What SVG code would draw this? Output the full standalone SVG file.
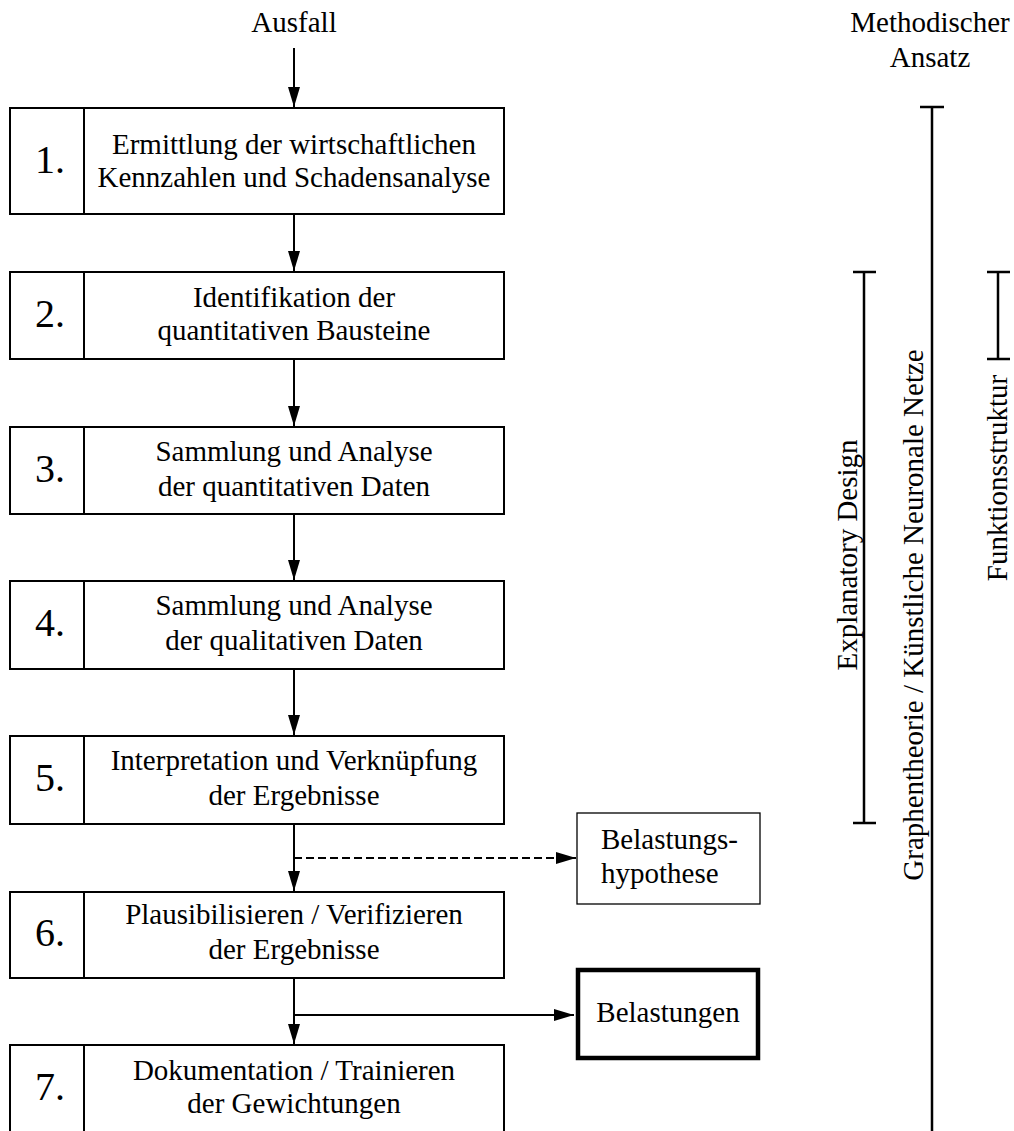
<svg xmlns="http://www.w3.org/2000/svg" width="1014" height="1131" viewBox="0 0 1014 1131">
  <style>
    text { font-family: "Liberation Serif", "Times New Roman", serif; fill: #000; }
    .t { font-size: 29px; text-anchor: middle; }
    .num { font-size: 40px; text-anchor: middle; }
    .box { fill: #fff; stroke: #000; stroke-width: 2; }
    .div { stroke: #000; stroke-width: 2; }
    .flow { stroke: #000; stroke-width: 2; fill: none; }
    .dash { stroke: #000; stroke-width: 2; fill: none; stroke-dasharray: 8 4; }
    .bar { stroke: #000; stroke-width: 2.5; fill: none; }
  </style>
  <defs>
    <marker id="arrow" markerUnits="userSpaceOnUse" markerWidth="20" markerHeight="12" refX="20" refY="6" orient="auto">
      <path d="M0,0 L20,6 L0,12 Z" fill="#000"/>
    </marker>
  </defs>

  <rect width="1014" height="1131" fill="#fff"/>

  <!-- headings -->
  <text class="t" x="294" y="32">Ausfall</text>
  <text class="t" x="930" y="32">Methodischer</text>
  <text class="t" x="930" y="67">Ansatz</text>

  <!-- connectors -->
  <g id="connectors">
    <line class="flow" x1="294" y1="48" x2="294" y2="107" marker-end="url(#arrow)"/>
    <line class="flow" x1="294" y1="214" x2="294" y2="271" marker-end="url(#arrow)"/>
    <line class="flow" x1="294" y1="359" x2="294" y2="426" marker-end="url(#arrow)"/>
    <line class="flow" x1="294" y1="514" x2="294" y2="580" marker-end="url(#arrow)"/>
    <line class="flow" x1="294" y1="669" x2="294" y2="735" marker-end="url(#arrow)"/>
    <line class="flow" x1="294" y1="824" x2="294" y2="891" marker-end="url(#arrow)"/>
    <line class="flow" x1="294" y1="978" x2="294" y2="1044" marker-end="url(#arrow)"/>
    <line class="dash" x1="294" y1="858" x2="576" y2="858" marker-end="url(#arrow)"/>
    <line class="flow" x1="294" y1="1015" x2="574" y2="1015" marker-end="url(#arrow)"/>
  </g>

  <!-- process steps -->
  <g id="step1">
    <rect class="box" x="10" y="108" width="494" height="106"/>
    <line class="div" x1="84" y1="108" x2="84" y2="214"/>
    <text class="num" x="50" y="173">1.</text>
    <text class="t" x="294" y="154">Ermittlung der wirtschaftlichen</text>
    <text class="t" x="294" y="187">Kennzahlen und Schadensanalyse</text>
  </g>
  <g id="step2">
    <rect class="box" x="10" y="272" width="494" height="87"/>
    <line class="div" x1="84" y1="272" x2="84" y2="359"/>
    <text class="num" x="50" y="327">2.</text>
    <text class="t" x="294" y="307">Identifikation der</text>
    <text class="t" x="294" y="340">quantitativen Bausteine</text>
  </g>
  <g id="step3">
    <rect class="box" x="10" y="427" width="494" height="87"/>
    <line class="div" x1="84" y1="427" x2="84" y2="514"/>
    <text class="num" x="50" y="482">3.</text>
    <text class="t" x="294" y="461">Sammlung und Analyse</text>
    <text class="t" x="294" y="496">der quantitativen Daten</text>
  </g>
  <g id="step4">
    <rect class="box" x="10" y="581" width="494" height="88"/>
    <line class="div" x1="84" y1="581" x2="84" y2="669"/>
    <text class="num" x="50" y="636">4.</text>
    <text class="t" x="294" y="615">Sammlung und Analyse</text>
    <text class="t" x="294" y="650">der qualitativen Daten</text>
  </g>
  <g id="step5">
    <rect class="box" x="10" y="736" width="494" height="88"/>
    <line class="div" x1="84" y1="736" x2="84" y2="824"/>
    <text class="num" x="50" y="791">5.</text>
    <text class="t" x="294" y="770">Interpretation und Verknüpfung</text>
    <text class="t" x="294" y="805">der Ergebnisse</text>
  </g>
  <g id="step6">
    <rect class="box" x="10" y="892" width="494" height="86"/>
    <line class="div" x1="84" y1="892" x2="84" y2="978"/>
    <text class="num" x="50" y="946">6.</text>
    <text class="t" x="294" y="924">Plausibilisieren / Verifizieren</text>
    <text class="t" x="294" y="959">der Ergebnisse</text>
  </g>
  <g id="step7">
    <rect class="box" x="10" y="1045" width="494" height="100"/>
    <line class="div" x1="84" y1="1045" x2="84" y2="1145"/>
    <text class="num" x="50" y="1100">7.</text>
    <text class="t" x="294" y="1080">Dokumentation / Trainieren</text>
    <text class="t" x="294" y="1113">der Gewichtungen</text>
  </g>

  <!-- outputs -->
  <g id="hypothese">
    <rect x="577" y="813" width="183" height="91" fill="#fff" stroke="#000" stroke-width="1.3"/>
    <text x="601" y="849" style="font-size:29px">Belastungs-</text>
    <text x="601" y="883" style="font-size:29px">hypothese</text>
  </g>
  <g id="belastungen">
    <rect x="578" y="970" width="180" height="88" fill="#fff" stroke="#000" stroke-width="4.5"/>
    <text class="t" x="668" y="1022">Belastungen</text>
  </g>

  <!-- method ranges -->
  <g id="explanatory-design">
    <path class="bar" d="M864,272 V823 M853,272 H876 M853,823 H876"/>
    <text class="t" transform="translate(857,555) rotate(-90)">Explanatory Design</text>
  </g>
  <g id="graphentheorie">
    <path class="bar" d="M932,107 V1131 M920,107 H944"/>
    <text class="t" transform="translate(923,615) rotate(-90)">Graphentheorie / Künstliche Neuronale Netze</text>
  </g>
  <g id="funktionsstruktur">
    <path class="bar" d="M998,272 V359 M987,272 H1010 M987,359 H1010"/>
    <text class="t" transform="translate(1007,478) rotate(-90)">Funktionsstruktur</text>
  </g>
</svg>
